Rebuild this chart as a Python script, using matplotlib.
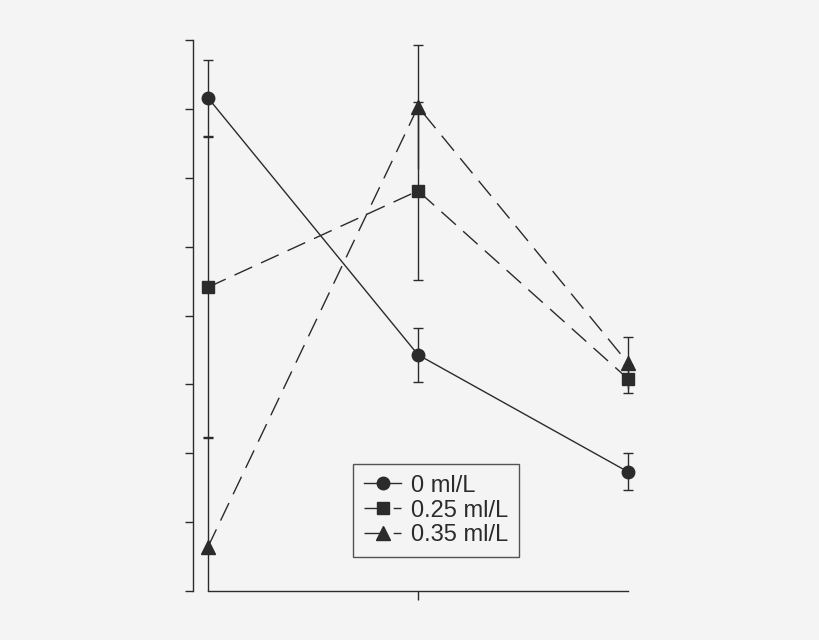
import matplotlib
matplotlib.use("Agg")
import matplotlib.pyplot as plt

# valores (eje y sin etiquetas, escala 0-8)
x_pos = [0, 1, 2]
y_0 = [7.16, 3.43, 1.73]
err_0 = [0.55, 0.39, 0.27]
y_025 = [4.41, 5.81, 3.08]
err_025 = [2.18, 1.29, 0.20]
y_035 = [0.64, 7.03, 3.31]
err_035_inf = [0.64, 0.90, 0.38]
err_035_sup = [1.58, 0.90, 0.38]
etiquetas = ["0 ml/L", "0.25 ml/L", "0.35 ml/L"]

fondo = "#f4f4f4"
tinta = "#2b2b2b"

fig = plt.figure(figsize=(8.2, 6.4), dpi=100, facecolor=fondo)
ax = fig.add_axes([193/820, 1 - 591/640, (628 - 193)/820, (591 - 40)/640])
ax.set_facecolor(fondo)

estilo = dict(color=tinta, ecolor=tinta, linewidth=1.0, elinewidth=1.0,
              capsize=3.3, capthick=1.0, clip_on=False)
c1 = ax.errorbar(x_pos, y_0, yerr=err_0, fmt='-o', markersize=9, **estilo)
c2 = ax.errorbar(x_pos, y_025, yerr=err_025, fmt='s', linestyle=(0, (14, 7)),
                 markersize=8, **estilo)
c3 = ax.errorbar(x_pos, y_035, yerr=[err_035_inf, err_035_sup], fmt='^',
                 linestyle=(0, (14, 7)), markersize=10, **estilo)
# la barra inferior del triangulo llega al eje: sin tapa abajo
c3[1][0].set_visible(False)

ax.set_xlim(-15/210, 2)
ax.set_ylim(0, 8)

for s in ["top", "right"]:
    ax.spines[s].set_visible(False)
ax.spines["left"].set_bounds(0, 8)
ax.spines["bottom"].set_bounds(0, 2)
for s in ["left", "bottom"]:
    ax.spines[s].set_color(tinta)
    ax.spines[s].set_linewidth(1.0)

ax.set_yticks(range(0, 9))
ax.set_yticklabels([])
ax.set_xticks([1])
ax.set_xticklabels([])
ax.tick_params(axis="y", direction="out", length=6, width=1.0, color=tinta)
ax.tick_params(axis="x", direction="out", length=6.5, width=1.0, color=tinta)

leg = ax.legend(handles=[c1[0], c2[0], c3[0]], labels=etiquetas,
                loc="lower left", bbox_to_anchor=((353 - 193)/435, (591 - 557)/551),
                frameon=True, fancybox=False, handlelength=1.6,
                handletextpad=0.4, borderpad=0.45, labelspacing=0.12,
                borderaxespad=0, prop={"family": "Liberation Sans", "size": 17})
leg.get_frame().set_edgecolor(tinta)
leg.get_frame().set_facecolor(fondo)
leg.get_frame().set_linewidth(1.0)
for t in leg.get_texts():
    t.set_color(tinta)

fig.savefig("out.png", dpi=100, facecolor=fondo)
